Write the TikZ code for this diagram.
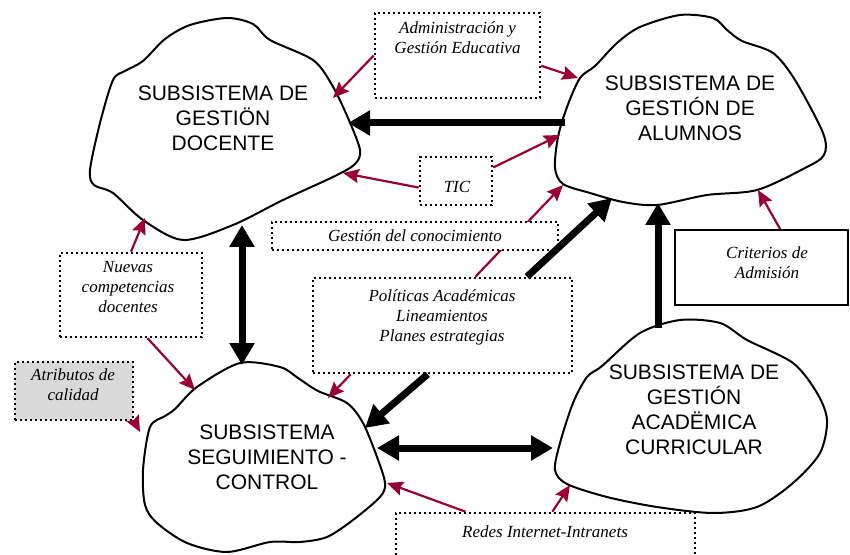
\documentclass[tikz,border=0pt]{standalone}
\usepackage{fontspec}
\setmainfont{Liberation Serif}
\newfontfamily\arialfont{Liberation Sans}
\usetikzlibrary{arrows.meta}
\definecolor{linkred}{RGB}{153,0,51}

\begin{document}
\begin{tikzpicture}[x=0.5pt,y=-0.5pt,
  cloudline/.style={line width=1pt,line join=round},
  cloudtext/.style={font=\arialfont\fontsize{10.5}{12.5}\selectfont,align=center},
  boxtext/.style={font=\itshape\fontsize{8.5}{10}\selectfont,align=center},
  dotbox/.style={draw,fill=white,line width=1.3pt,dash pattern=on 1.2pt off 1.3pt,inner sep=0pt},
  solidbox/.style={draw,fill=white,line width=0.8pt,inner sep=0pt},
  redarr/.style={draw=linkred,line width=1.1pt,-{Stealth[length=8pt,width=7pt,inset=1.2pt]}},
  blackarr/.style={line width=3.5pt,-{Triangle[length=11pt,width=12pt]}},
  blackboth/.style={line width=3.5pt,{Triangle[length=11pt,width=12pt]}-{Triangle[length=11pt,width=12pt]}}]
  \useasboundingbox (0,0) rectangle (850,555);
  % clouds
  \draw[cloudline] plot[smooth cycle,tension=0.5] coordinates {
    (113,80) (125,71) (143,61) (165,39) (190,25) (227,18) (253,24) (270,40)
    (313,60) (332,85) (348,118) (360,150) (355,164) (335,176) (283,200)
    (233,225) (183,240) (143,220) (113,193) (94,185) (90,170) (100,123)};
  \draw[cloudline] plot[smooth cycle,tension=0.5] coordinates {
    (580,78) (595,66) (617,43) (640,27) (680,15) (713,18) (727,30) (742,41)
    (773,53) (795,80) (823,133) (824,155) (805,168) (757,190)
    (707,195) (657,205) (623,202) (590,193) (563,184) (555,168) (558,137)
    (567,107)};
  \draw[cloudline] plot[smooth cycle,tension=0.5] coordinates {
    (240,363) (280,367) (298,378) (318,391) (347,403) (363,423) (377,457)
    (385,483) (380,497) (353,520) (327,537) (300,542) (270,542) (227,552)
    (187,543) (157,523) (145,505) (143,470) (150,427) (165,416)
    (175,409) (197,387)};
  \draw[cloudline] plot[smooth cycle,tension=0.5] coordinates {
    (587,377) (602,366) (640,333) (680,320) (720,323) (747,340) (793,363)
    (817,393) (827,420) (820,453) (793,483) (757,507) (713,513) (657,507)
    (607,497) (567,484) (555,470) (560,443) (573,403)};
  \node[cloudtext] (docT) at (223,118) {SUBSISTEMA DE\\GESTIÖN\\DOCENTE};
  \node[cloudtext] (aluT) at (690,108) {SUBSISTEMA DE\\GESTIÓN DE\\ALUMNOS};
  \node[cloudtext] (segT) at (267,457) {SUBSISTEMA\\SEGUIMIENTO -\\CONTROL};
  \node[cloudtext] (acaT) at (694,410) {SUBSISTEMA DE\\GESTIÓN\\ACADËMICA\\CURRICULAR};
  % points on the clouds
  \coordinate (docR1) at (333,98);
  \coordinate (docR2) at (343,173);
  \coordinate (docR3) at (145,218);
  \coordinate (aluR1) at (578,78);
  \coordinate (aluR2) at (560,135);
  \coordinate (aluR3) at (563,185);
  \coordinate (aluR4) at (758,190);
  \coordinate (segR1) at (195,390);
  \coordinate (segR2) at (140,432);
  \coordinate (segR3) at (328,398);
  \coordinate (segR4) at (387,483);
  \coordinate (acaR)  at (570,485);
  \coordinate (docA) at (348,123);
  \coordinate (aluA) at (565,123);
  \coordinate (docB) at (242,225);
  \coordinate (segB) at (242,365);
  \coordinate (aluC) at (612,198);
  \coordinate (acaD) at (658,328);
  \coordinate (aluD) at (658,203);
  \coordinate (segE) at (365,428);
  \coordinate (segF) at (377,448);
  \coordinate (acaF) at (553,448);
  % boxes
  \node[dotbox,minimum width=82.5pt,minimum height=42.5pt] (admin) at (457.5,55.5) {};
  \node[dotbox,minimum width=36pt,minimum height=24pt] (tic) at (456,181) {};
  \node[dotbox,minimum width=129.5pt,minimum height=47.5pt] (pol) at (442.5,325.5) {};
  \node[dotbox,minimum width=71pt,minimum height=42pt] (nue) at (131,295) {};
  \node[dotbox,fill=black!15,minimum width=59pt,minimum height=29pt] (atr) at (74,391) {};
  \node[solidbox,minimum width=86.5pt,minimum height=37.5pt] (cri) at (761.5,267.5) {};
  \node[dotbox,minimum width=149.5pt,minimum height=31pt] (red) at (545.5,544) {};
  % red arrows
  \draw[redarr] (admin.west) -- (docR1);
  \draw[redarr] (admin.-7) -- (aluR1);
  \draw[redarr] (tic.190) -- (docR2);
  \draw[redarr] (tic.20) -- (aluR2);
  \draw[redarr] (pol.56) -- (aluR3);
  \draw[redarr] (cri.64) -- (aluR4);
  \draw[redarr] (nue.north) -- (docR3);
  \draw[redarr] (nue.-69) -- (segR1);
  \draw[redarr] (atr.south east) -- (segR2);
  \draw[redarr] (pol.208.5) -- (segR3);
  \draw[redarr] (red.158) -- (segR4);
  \draw[redarr] (red.78) -- (acaR);
  % box over the line from pol
  \node[dotbox,minimum width=143pt,minimum height=14pt] (gest) at (415,236) {};
  % box texts
  \node[boxtext] (adminT) at (457.5,37.5) {Administración y\\Gestión Educativa};
  \node[boxtext] (ticT) at (457,187) {TIC};
  \node[boxtext] (gestT) at (415,236) {Gestión del conocimiento};
  \node[boxtext] (polT) at (442,317) {Políticas Académicas\\Lineamientos\\Planes estrategias};
  \node[boxtext] (nueT) at (128,287) {Nuevas\\competencias\\docentes};
  \node[boxtext] (atrT) at (73,385) {Atributos de\\calidad};
  \node[boxtext] (criT) at (767,263) {Criterios de\\Admisión};
  \node[boxtext] (redT) at (545,532) {Redes Internet-Intranets};
  % black arrows
  \draw[blackarr] (aluA) -- (docA);
  \draw[blackboth] (docB) -- (segB);
  \draw[blackarr] (pol.30.5) -- (aluC);
  \draw[blackarr] (acaD) -- (aluD);
  \draw[blackarr] (pol.-107) -- (segE);
  \draw[blackboth] (segF) -- (acaF);
\end{tikzpicture}
\end{document}
